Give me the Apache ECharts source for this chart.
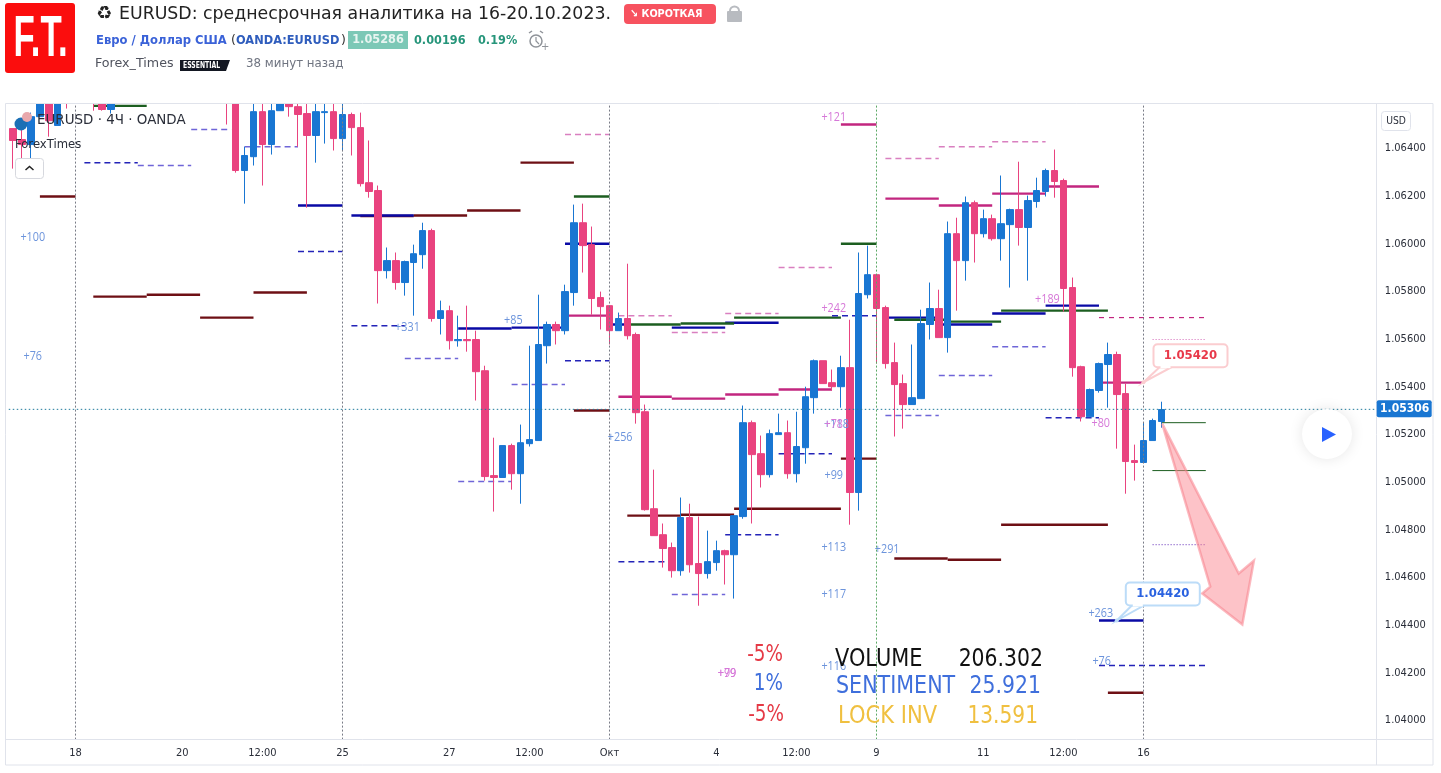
<!DOCTYPE html>
<html><head><meta charset="utf-8">
<style>html,body{margin:0;padding:0;background:#fff}#c{width:1441px;height:773px}</style>
<script src="https://cdn.jsdelivr.net/npm/echarts@6/dist/echarts.min.js"></script>
</head><body><div id="c"></div>
<script>
// candles: [open, close, low, high]; '-' = bar hidden above the visible range
const N='-';
const candles=[
[1.06484,1.06434,1.06316,1.06484],[1.06438,1.06417,1.06341,1.06484],[1.06417,1.06534,1.06354,1.06551],[1.06534,1.06650,1.06534,1.06680],[1.06650,1.06517,1.06450,1.06680],
[1.06497,1.06640,1.06497,1.06660],[1.06680,1.06620,1.06568,1.06700],[N,N,N,N],[N,N,N,N],[1.06650,1.06600,1.06559,1.06680],
[1.06600,1.06564,1.06559,1.06620],[1.06564,1.06600,1.06547,1.06620],[N,N,N,N],[N,N,N,N],[N,N,N,N],[N,N,N,N],[N,N,N,N],[N,N,N,N],[N,N,N,N],[N,N,N,N],[N,N,N,N],[N,N,N,N],[N,N,N,N],[N,N,N,N],
[1.06680,1.06620,1.06501,1.06700],[1.06620,1.06308,1.06299,1.06640],[1.06308,1.06371,1.06169,1.06408],[1.06366,1.06555,1.06329,1.06590],[1.06555,1.06417,1.06245,1.06590],[1.06417,1.06559,1.06375,1.06590],
[1.06559,1.06600,1.06559,1.06620],[1.06600,1.06576,1.06534,1.06620],[1.06576,1.06543,1.06408,1.06590],[1.06547,1.06455,1.06152,1.06590],[1.06455,1.06555,1.06341,1.06590],[1.06551,1.06555,1.06421,1.06590],
[1.06555,1.06442,1.06392,1.06590],[1.06442,1.06543,1.06392,1.06590],[1.06543,1.06488,1.06371,1.06551],[1.06488,1.06253,1.06241,1.06551],[1.06257,1.06220,1.06194,1.06434],[1.06224,1.05888,1.05750,1.06245],
[1.05888,1.05930,1.05855,1.05985],[1.05930,1.05838,1.05808,1.05964],[1.05838,1.05926,1.05783,1.05930],[1.05922,1.05959,1.05699,1.05997],[1.05955,1.06056,1.05896,1.06089],[1.06056,1.05687,1.05674,1.06064],
[1.05687,1.05720,1.05620,1.05762],[1.05720,1.05594,1.05557,1.05741],[1.05594,1.05599,1.05569,1.05699],[1.05599,1.05594,1.05548,1.05741],[1.05599,1.05464,1.05343,1.05636],[1.05468,1.05024,1.05007,1.05489],
[1.05028,1.05020,1.04877,1.05187],[1.05020,1.05154,1.05020,1.05154],[1.05154,1.05036,1.04969,1.05162],[1.05036,1.05166,1.04910,1.05242],[1.05162,1.05179,1.05150,1.05573],[1.05175,1.05578,1.05175,1.05787],
[1.05573,1.05662,1.05498,1.05674],[1.05662,1.05636,1.05578,1.05674],[1.05636,1.05800,1.05620,1.05829],[1.05796,1.06089,1.05741,1.06165],[1.06089,1.05993,1.05880,1.06169],[1.05997,1.05771,1.05703,1.06073],
[1.05775,1.05737,1.05641,1.05800],[1.05741,1.05636,1.05578,1.05741],[1.05636,1.05687,1.05636,1.05712],[1.05687,1.05615,1.05599,1.05917],[1.05620,1.05292,1.05246,1.05628],[1.05296,1.04885,1.04881,1.05326],
[1.04889,1.04776,1.04776,1.05053],[1.04780,1.04722,1.04642,1.04827],[1.04726,1.04629,1.04600,1.04747],[1.04629,1.04852,1.04608,1.04936],[1.04852,1.04654,1.04621,1.04910],[1.04659,1.04617,1.04482,1.04856],
[1.04617,1.04667,1.04596,1.04797],[1.04663,1.04713,1.04629,1.04755],[1.04713,1.04696,1.04571,1.04717],[1.04696,1.04860,1.04512,1.04860],[1.04856,1.05250,1.04847,1.05322],[1.05250,1.05116,1.04827,1.05259],
[1.05120,1.05032,1.04978,1.05196],[1.05032,1.05204,1.05020,1.05221],[1.05200,1.05208,1.05200,1.05288],[1.05208,1.05036,1.05015,1.05259],[1.05036,1.05150,1.04999,1.05296],[1.05145,1.05359,1.05078,1.05401],
[1.05355,1.05510,1.05288,1.05515],[1.05510,1.05414,1.05414,1.05510],[1.05418,1.05401,1.05385,1.05473],[1.05401,1.05481,1.05313,1.05531],[1.05481,1.04957,1.04822,1.05682],[1.04957,1.05792,1.04881,1.05964],
[1.05787,1.05871,1.05771,1.05993],[1.05871,1.05729,1.05498,1.05871],[1.05733,1.05498,1.05477,1.05741],[1.05502,1.05410,1.05192,1.05586],[1.05414,1.05326,1.05225,1.05452],[1.05326,1.05355,1.05326,1.05578],
[1.05351,1.05666,1.05351,1.05724],[1.05662,1.05729,1.05599,1.05838],[1.05729,1.05607,1.05607,1.05808],[1.05607,1.06043,1.05544,1.06094],[1.06043,1.05930,1.05720,1.06110],[1.05930,1.06173,1.05846,1.06199],
[1.06173,1.06043,1.05922,1.06182],[1.06043,1.06106,1.06027,1.06144],[1.06106,1.06022,1.06014,1.06123],[1.06022,1.06085,1.05930,1.06287],[1.06081,1.06144,1.05817,1.06148],[1.06144,1.06069,1.05993,1.06345],
[1.06069,1.06182,1.05846,1.06203],[1.06178,1.06224,1.06152,1.06278],[1.06220,1.06308,1.06199,1.06316],[1.06308,1.06262,1.06194,1.06396],[1.06266,1.05813,1.05716,1.06274],[1.05817,1.05481,1.05443,1.05859],
[1.05485,1.05275,1.05255,1.05489],[1.05275,1.05389,1.05275,1.05393],[1.05385,1.05498,1.05376,1.05502],[1.05494,1.05536,1.05313,1.05586],[1.05536,1.05368,1.05141,1.05548],[1.05372,1.05087,1.04952,1.05414],
[1.05091,1.05083,1.05007,1.05158],[1.05083,1.05175,1.05083,1.05250],[1.05175,1.05259,1.05175,1.05267],[1.05255,1.05305,1.05229,1.05338]
];
const barCount=154;
const timeLabelBars=[7,19,28,37,49,58,67,79,88,97,109,118,127];
const timeLabels=['18','20','12:00','25','27','12:00','Окт','4','12:00','9','11','12:00','16'];
const priceTicks=[1.04,1.042,1.044,1.046,1.048,1.05,1.052,1.054,1.056,1.058,1.06,1.062,1.064];
const lastPrice=1.05306;
const sessionBars=[7,37,67,127];
const greenSessionBars=[97];
// levels: [first bar, last bar, price]
const maroonLevels=[[3,7,1.06199],[9,15,1.05779],[15,21,1.05787],[21,27,1.05691],[27,33,1.05796],[39,45,1.06117],[45,51,1.06119],[51,57,1.06140],[57,63,1.06341],[63,67,1.05301],[69,75,1.04860],[75,81,1.04864],[81,93,1.04889],[93,97,1.05099],[99,105,1.04680],[105,111,1.04675],[111,123,1.04822],[123,127,1.04117]];
const navyLevels=[[32,37,1.06161],[38,45,1.06119],[50,56,1.05645],[56,62,1.05649],[62,67,1.06001],[67,69,1.05662],[74,80,1.05649],[80,86,1.05669],[98,104,1.05691],[104,110,1.05662],[110,116,1.05708],[116,122,1.05741],[122,127,1.04420]];
const greenLevels=[[9,15,1.06580],[63,67,1.06199],[69,75,1.05662],[75,81,1.05666],[81,93,1.05691],[93,97,1.06001],[99,105,1.05682],[105,111,1.05674],[111,123,1.05720]];
const thinGreenLevels=[[129,134,1.05250],[128,134,1.05049]];
const magentaLevels=[[62,67,1.05699],[68,74,1.05359],[74,80,1.05351],[80,86,1.05368],[86,92,1.05389],[93,97,1.06501],[98,104,1.06190],[104,110,1.06161],[110,116,1.06211],[116,122,1.06241],[122,127,1.05418]];
const navyDashes=[[8,14,1.06341],[32,37,1.05968],[38,44,1.05657],[62,67,1.05510],[68,74,1.04667],[80,86,1.04780],[86,92,1.05120],[92,97,1.05699],[116,122,1.05271],[122,134,1.04231]];
const purpleDashes=[[14,20,1.06329],[20,24.5,1.06480],[26,32,1.06408],[44,50,1.05519],[50,56,1.05003],[56,62,1.05410],[74,80,1.04529],[98,104,1.05280],[104,110,1.05448],[110,116,1.05569]];
const pinkDashes=[[62,67,1.06459],[68,74,1.05699],[74,80,1.05628],[80,86,1.05708],[86,92,1.05901],[98,104,1.06358],[104,110,1.06408],[110,116,1.06429]];
const magentaDashes=[[122,134,1.05691]];
const pinkDots=[[128,134,1.05599]];
const purpleDots=[[128,134,1.04738]];
const priceLine=[[-0.5,153.2,lastPrice]];
const priceTag=[[153.2,lastPrice,'1.05306']];
// small profit notes: [bar, price, text]
const blueNotes=[[2.2,1.06027,'+100'],[2.2,1.05527,'+76'],[44.3,1.05649,'+331'],[56.2,1.05678,'+85'],[68.2,1.05187,'+256'],[92.2,1.05028,'+99'],[92.2,1.04726,'+113'],[92.2,1.04529,'+117'],[98.2,1.04717,'+291'],[122.2,1.04449,'+263'],[122.3,1.04247,'+76'],[92.2,1.04227,'+116'],[92.5,1.05242,'+118']];
const pinkNotes=[[92.2,1.06530,'+121'],[92.2,1.05729,'+242'],[92.2,1.05242,'+78'],[80.2,1.04197,'+79'],[80.2,1.04197,'+99'],[116.2,1.05766,'+189'],[122.2,1.05246,'+80']];
// callouts: [bar, price, text]
const redCallout=[[127,1.05420,'1.05420']];
const blueCallout=[[124,1.04420,'1.04420']];
// arrow outline
const arrowBars=[129.1,137.7,139.4,138.1,133.6,134.5];
const arrowPrices=[1.05246,1.04617,1.04671,1.04403,1.04533,1.04562];

const UP='#1976d2',DOWN='#e9437f';
function levelSeries(name,data,color,width,dash,z,op){
  return {name,type:'custom',xAxisIndex:1,yAxisIndex:0,z:z||1,clip:true,silent:true,
    encode:{x:[0,1],y:2},data,
    renderItem(p,api){
      const a=api.coord([api.value(0),api.value(2)]),b=api.coord([api.value(1),api.value(2)]);
      return {type:'line',shape:{x1:a[0],y1:a[1],x2:b[0],y2:b[1]},
        style:{stroke:color,lineWidth:width,lineDash:dash||null,opacity:op==null?1:op}};
    }};
}
function noteSeries(name,data,color){
  return {name,type:'custom',xAxisIndex:1,yAxisIndex:0,z:5,clip:false,silent:true,
    encode:{x:0,y:1},data,
    renderItem(p,api){
      const a=api.coord([api.value(0),api.value(1)]);
      return {type:'text',x:a[0],y:a[1],scaleX:0.9,style:{text:data[p.dataIndex][2],fill:color,font:'12px "Open Sans"',align:'center',verticalAlign:'middle'}};
    }};
}
function calloutSeries(name,data,border,textColor,dx,dy){
  return {name,type:'custom',xAxisIndex:1,yAxisIndex:0,z:6,clip:false,silent:true,
    encode:{x:0,y:1},data,
    renderItem(p,api){
      const a=api.coord([api.value(0),api.value(1)]);
      return {type:'group',children:[
        {type:'polygon',shape:{points:[[a[0],a[1]],[a[0]+dx+6,a[1]+dy+23],[a[0]+dx+18,a[1]+dy+23]]},style:{fill:'#fff',stroke:border,lineWidth:2}},
        {type:'rect',shape:{x:a[0]+dx,y:a[1]+dy,width:74,height:23,r:4},style:{fill:'#fff',stroke:border,lineWidth:2}},
        {type:'rect',shape:{x:a[0]+dx+7,y:a[1]+dy+18,width:10,height:6},style:{fill:'#fff'}},
        {type:'circle',shape:{cx:a[0],cy:a[1],r:2},style:{fill:border}},
        {type:'text',x:a[0]+dx+37,y:a[1]+dy+11.5,style:{text:data[p.dataIndex][2],fill:textColor,font:'bold 13px "DejaVu Sans Condensed"',align:'center',verticalAlign:'middle'}}
      ]};
    }};
}
function T(x,y,text,size,fill,o){
  o=o||{};
  return {type:'text',x,y,scaleX:o.sx||1,z:o.z||50,silent:true,style:{text,fill,font:(o.w||'normal')+' '+size+'px '+(o.f||'"DejaVu Sans"'),align:o.a||'left',verticalAlign:'middle'}};
}
const FR='#e0e3eb';
const graphics=[
  // white mask above the plot area: bars whose highs leave the visible range stop at the frame
  {type:'rect',z:10,silent:true,shape:{x:0,y:74,width:1441,height:29.5},style:{fill:'#fff'}},
  {type:'rect',z:11,silent:true,shape:{x:5.5,y:103.5,width:1427.5,height:661.5},style:{fill:'none',stroke:FR,lineWidth:1}},
  {type:'line',z:11,silent:true,shape:{x1:1376.5,y1:104,x2:1376.5,y2:765},style:{stroke:FR,lineWidth:1}},
  {type:'line',z:11,silent:true,shape:{x1:6,y1:739.5,x2:1433,y2:739.5},style:{stroke:FR,lineWidth:1}},
  // logo
  {type:'rect',z:50,silent:true,shape:{x:5,y:3,width:70,height:70,r:3},style:{fill:'#fb0d0d'}},
  T(40.5,40,'F.T.',58,'#fff',{w:'bold',f:'"Liberation Sans"',a:'center',sx:0.6}),
  // header
  T(96,14,'♻',18,'#222'),
  T(119,14,'EURUSD: среднесрочная аналитика на 16-20.10.2023.',18,'#222',{sx:0.963}),
  {type:'rect',z:50,silent:true,shape:{x:624,y:4,width:92,height:20,r:4},style:{fill:'#f7525f'}},
  T(630,14,'↘ КОРОТКАЯ',11,'#fff',{w:'bold',sx:0.88}),
  {type:'rect',z:50,silent:true,shape:{x:727,y:11,width:15,height:11,r:1},style:{fill:'#b8bbc0'}},
  {type:'arc',z:50,silent:true,shape:{cx:734.5,cy:11,r:4.5,startAngle:Math.PI,endAngle:0},style:{fill:'none',stroke:'#b8bbc0',lineWidth:2}},
  T(96,41,'Евро / Доллар США',12.5,'#3a62d8',{w:'bold',sx:0.925}),
  T(231,41,'(',12.5,'#333'),
  T(236,41,'OANDA:EURUSD',12.5,'#2f5dbd',{w:'bold',sx:0.91}),
  T(341,41,')',12.5,'#333'),
  {type:'rect',z:50,silent:true,shape:{x:348,y:31,width:60,height:18},style:{fill:'#7cc8b6'}},
  T(378,40,'1.05286',13,'#e8f5f1',{w:'bold',a:'center',sx:0.87}),
  T(414,41,'0.00196',13,'#26957a',{w:'bold',sx:0.87}),
  T(478,41,'0.19%',13,'#26957a',{w:'bold',sx:0.87}),
  {type:'circle',z:50,silent:true,shape:{cx:536,cy:41,r:6},style:{fill:'none',stroke:'#8f9399',lineWidth:1.5}},
  {type:'polyline',z:50,silent:true,shape:{points:[[536,37],[536,41],[539,44]]},style:{fill:'none',stroke:'#8f9399',lineWidth:1.2}},
  {type:'line',z:50,silent:true,shape:{x1:529,y1:33,x2:532,y2:31},style:{stroke:'#8f9399',lineWidth:1.5}},
  {type:'line',z:50,silent:true,shape:{x1:540,y1:31,x2:543,y2:33},style:{stroke:'#8f9399',lineWidth:1.5}},
  T(541,47,'+',10,'#8f9399'),
  T(95,64,'Forex_Times',13,'#50535e',{sx:0.975}),
  {type:'polygon',z:50,silent:true,shape:{points:[[180,60],[230,60],[226,71],[180,71]]},style:{fill:'#131722'}},
  T(183,65.5,'ESSENTIAL',8.5,'#fff',{w:'bold',sx:0.72}),
  T(246,64,'38 минут назад',13,'#6f7480',{sx:0.91}),
  // chart legend
  {type:'circle',z:50,silent:true,shape:{cx:21,cy:124,r:6.5},style:{fill:'#1a6fb5'}},
  {type:'circle',z:50,silent:true,shape:{cx:27,cy:117,r:5},style:{fill:'#e8a8ac'}},
  T(37,120.5,'EURUSD · 4Ч · OANDA',14,'#2a2e39',{sx:0.96}),
  T(15,144.5,'ForexTimes',12,'#2a2e39',{sx:0.968}),
  {type:'rect',z:50,silent:true,shape:{x:15.5,y:158.5,width:28,height:20,r:3},style:{fill:'#fff',stroke:'#d6d8de',lineWidth:1}},
  {type:'polyline',z:51,silent:true,shape:{points:[[25.5,170],[29.5,166.5],[33.5,170]]},style:{fill:'none',stroke:'#222',lineWidth:1.5}},
  // play button
  {type:'circle',z:50,silent:true,shape:{cx:1327,cy:434,r:25},style:{fill:'#fff',shadowBlur:14,shadowColor:'rgba(0,0,0,0.10)'}},
  {type:'polygon',z:51,silent:true,shape:{points:[[1322,427],[1322,442],[1336,434.5]]},style:{fill:'#2962ff'}},
  // currency box
  {type:'rect',z:50,silent:true,shape:{x:1381.5,y:111.5,width:29,height:19,r:3},style:{fill:'#fff',stroke:FR,lineWidth:1}},
  T(1396,121,'USD',10.5,'#2a2e39',{a:'center',sx:0.88}),
  // stats
  T(783,655,'-5%',23,'#e53945',{a:'right',sx:0.8}),
  T(783,684,'1%',23,'#3f6fdc',{a:'right',sx:0.8}),
  T(784,715,'-5%',23,'#e53945',{a:'right',sx:0.8}),
  T(835,659.5,'VOLUME',24,'#111',{sx:0.87}),
  T(1043,659.5,'206.302',24,'#111',{a:'right',sx:0.85}),
  T(836,686.5,'SENTIMENT',24,'#3f6fdc',{sx:0.86}),
  T(1041,686.5,'25.921',24,'#3f6fdc',{a:'right',sx:0.85}),
  T(838,716.5,'LOCK INV',24,'#f0c040',{sx:0.877}),
  T(1038,716.5,'13.591',24,'#f0c040',{a:'right',sx:0.84})
];

const categories=Array.from({length:barCount},()=>'');
timeLabelBars.forEach((b,i)=>categories[b]=timeLabels[i]);
const GL=8.75,BW=8.9;
const option={
  animation:false,
  backgroundColor:'#fff',
  graphic:{elements:graphics},
  grid:{left:GL,top:104.6,width:BW*barCount,height:635,containLabel:false},
  xAxis:[
    {type:'category',data:categories,boundaryGap:true,axisLine:{show:false},axisTick:{show:false},splitLine:{show:false},
     axisLabel:{interval:0,color:'#2a2e39',fontSize:11,fontFamily:'"DejaVu Sans Condensed"',margin:8,hideOverlap:false}},
    {type:'value',min:-0.5,max:barCount-0.5,show:false,splitLine:{show:false}}
  ],
  yAxis:{type:'value',position:'right',min:1.039203,max:1.065846,scale:true,axisLine:{show:false},axisTick:{show:false},splitLine:{show:false},
    axisLabel:{customValues:priceTicks,margin:5.5,color:'#2a2e39',fontSize:11,fontFamily:'"DejaVu Sans Condensed"',formatter:v=>v.toFixed(5)}},
  series:[
    levelSeries('maroon',maroonLevels,'#6e0f14',2.4),
    levelSeries('navy',navyLevels,'#0a0aa5',2.4),
    levelSeries('green',greenLevels,'#1c5e20',2.4),
    levelSeries('thinGreen',thinGreenLevels,'#1c5e20',1),
    levelSeries('magenta',magentaLevels,'#c2267f',2.4),
    levelSeries('navyDash',navyDashes,'#2323b8',1.5,[6,4]),
    levelSeries('purpleDash',purpleDashes,'#6f66d8',1.5,[6,4]),
    levelSeries('pinkDash',pinkDashes,'#d97fc0',1.5,[6,4]),
    levelSeries('magentaDash',magentaDashes,'#c2267f',1.2,[5,5]),
    levelSeries('pinkDot',pinkDots,'#e39ad0',1.2,[1.5,1.5]),
    levelSeries('purpleDot',purpleDots,'#a88ad8',1.2,[1.5,1.5]),
    {name:'EURUSD',type:'candlestick',xAxisIndex:0,yAxisIndex:0,z:3,barWidth:7,silent:true,clip:true,data:candles,
     itemStyle:{color:UP,color0:DOWN,borderColor:UP,borderColor0:DOWN,borderColorDoji:DOWN,borderWidth:1},
     markLine:{silent:true,symbol:'none',animation:false,
       data:[
         ...sessionBars.map(b=>({xAxis:b,lineStyle:{color:'#787b86',type:[2,2],width:1},label:{show:false}})),
         ...greenSessionBars.map(b=>({xAxis:b,lineStyle:{color:'#5ba865',type:[2,2],width:1},label:{show:false}}))
       ]}},
    levelSeries('priceLine',priceLine,'#1f7a9c',1,[1.5,2.5],4),
    {name:'priceTag',type:'custom',xAxisIndex:1,yAxisIndex:0,z:12,clip:false,silent:true,encode:{x:0,y:1},data:priceTag,
     renderItem(p,api){
       const a=api.coord([api.value(0),api.value(1)]);
       return {type:'group',children:[
         {type:'rect',shape:{x:a[0],y:a[1]-9,width:55,height:17,r:2},style:{fill:'#1976d2'}},
         {type:'text',x:a[0]+28,y:a[1],style:{text:priceTag[p.dataIndex][2],fill:'#fff',font:'bold 12px "DejaVu Sans Condensed"',align:'center',verticalAlign:'middle'}}
       ]};
     }},
    {name:'arrow',type:'custom',xAxisIndex:1,yAxisIndex:0,z:4,clip:false,silent:true,encode:{x:0,y:1},
     data:arrowBars.map((b,i)=>[b,arrowPrices[i]]),
     renderItem(p,api){
       if(p.dataIndex!==0) return null;
       const pts=arrowBars.map((b,i)=>api.coord([b,arrowPrices[i]]));
       return {type:'polygon',shape:{points:pts},style:{fill:'rgba(250,130,140,0.48)',stroke:'rgba(247,130,140,0.55)',lineWidth:2.5,lineJoin:'miter'}};
     }},
    noteSeries('blueNotes',blueNotes,'#6c94dc'),
    noteSeries('pinkNotes',pinkNotes,'#d678d8'),
    calloutSeries('target up',redCallout,'#fbcdd0','#e8394a',10,-38),
    calloutSeries('target down',blueCallout,'#bcdcf8','#2a62e0',9,-38)
  ]
};
const chart=echarts.init(document.getElementById('c'));
chart.setOption(option);
</script></body></html>
